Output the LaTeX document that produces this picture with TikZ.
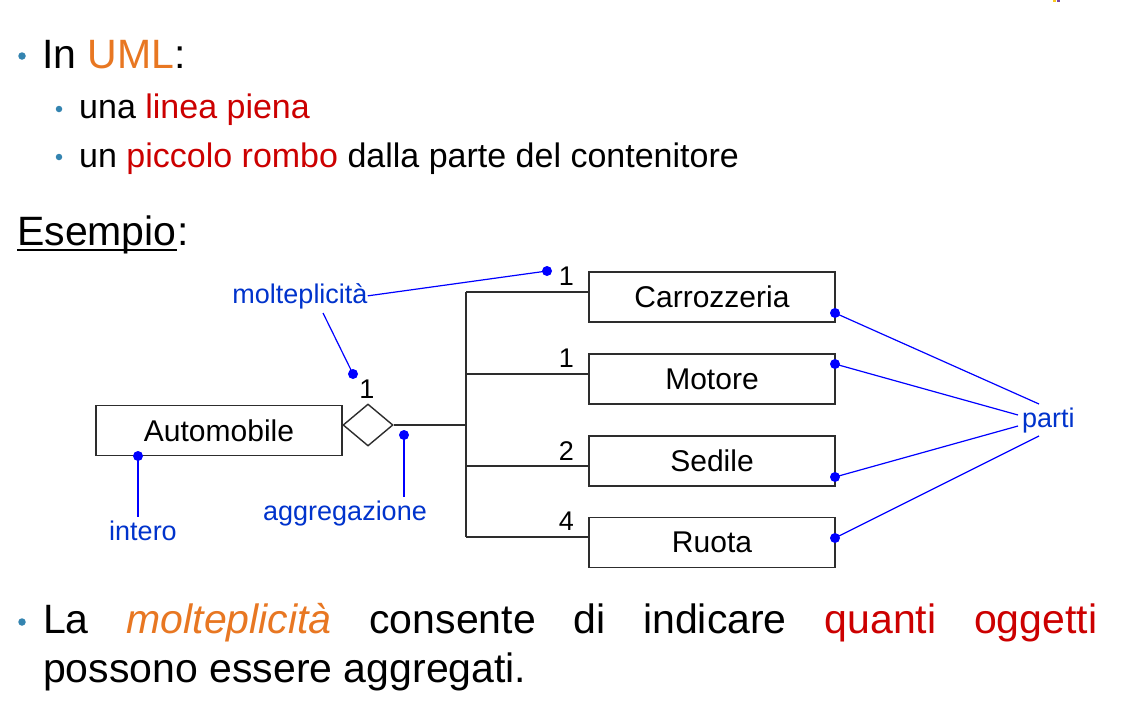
\documentclass[tikz,border=0pt]{standalone}
\usepackage{fontspec}
\setmainfont{Liberation Sans}
\usetikzlibrary{shapes.geometric}

\definecolor{bulletblue}{RGB}{52,132,176}
\definecolor{umlorange}{RGB}{232,119,34}
\definecolor{accentred}{RGB}{204,0,0}
\definecolor{noteblue}{RGB}{0,51,204}
\definecolor{pinblue}{RGB}{0,0,255}
\definecolor{linegray}{RGB}{45,45,45}
\definecolor{logoyellow}{RGB}{250,200,30}
\definecolor{logopurple}{RGB}{120,70,160}

\begin{document}
\begin{tikzpicture}[x=1pt,y=-1pt,
  lvlone/.style={anchor=base west, inner sep=0pt, font=\fontsize{41}{50}\selectfont},
  lvltwo/.style={anchor=base west, inner sep=0pt, font=\fontsize{34}{40}\selectfont},
  bul/.style={circle, fill=bulletblue, inner sep=0pt, minimum size=7.5pt},
  subbul/.style={circle, fill=bulletblue, inner sep=0pt, minimum size=6.5pt},
  classbox/.style={draw=linegray, line width=1.4pt, minimum width=246pt, minimum height=50pt,
                   inner sep=0pt, font=\fontsize{30}{36}\selectfont},
  aggshape/.style={diamond, draw=linegray, line width=1.4pt, fill=white, inner sep=0pt,
                   minimum width=50pt, minimum height=42pt},
  assoc/.style={draw=linegray, line width=1.4pt},
  mult/.style={inner sep=0pt, anchor=base east, font=\fontsize{27}{32}\selectfont},
  note/.style={text=noteblue, inner sep=0pt, font=\fontsize{27}{32}\selectfont},
  pin/.style={circle, fill=pinblue, inner sep=0pt, minimum size=10pt},
  link/.style={draw=pinblue, line width=1.2pt}
]
\useasboundingbox (0,0) rectangle (1134,720);
\fill[white] (0,0) rectangle (1134,720);

% corner of the slide logo
\fill[logoyellow] (1053,0) rectangle (1056,1.5);
\fill[logopurple] (1057,0) rectangle (1060,1.5);

% ---- bullet list ----
\node[bul] (b1) at (22,56) {};
\node[lvlone] (h1) at (42,68) {In \textcolor{umlorange}{UML}:};
\node[subbul] (b2) at (59,109) {};
\node[lvltwo] (s1) at (79,118) {una \textcolor{accentred}{linea piena}};
\node[subbul] (b3) at (59,157) {};
\node[lvltwo] (s2) at (79,167) {un \textcolor{accentred}{piccolo rombo} dalla parte del contenitore};

% ---- heading ----
\node[lvlone] (esw) at (17,245) {Esempio};
\node[lvlone, anchor=base west] (colon) at (esw.base east) {:};
\draw[line width=2pt] ([yshift=-4.5pt]esw.base west) -- ([yshift=-4.5pt]esw.base east);

% ---- classes ----
\node[classbox] (auto) at (219,430.5) {Automobile};
\node[aggshape] (agg) at (368,425) {};
\node[classbox] (carr) at (712,297) {Carrozzeria};
\node[classbox] (moto) at (712,379) {Motore};
\node[classbox] (sedi) at (712,461) {Sedile};
\node[classbox] (ruot) at (712,542.5) {Ruota};

% ---- aggregation tree ----
\coordinate (bC) at (466,292);
\coordinate (bM) at (466,374);
\coordinate (bS) at (466,466);
\coordinate (bR) at (466,537);
\draw[assoc] (agg.east) -- (agg.east -| bC);
\draw[assoc] (bC) -- (bR);
\draw[assoc] (bC) -- (bC -| carr.west);
\draw[assoc] (bM) -- (bM -| moto.west);
\draw[assoc] (bS) -- (bS -| sedi.west);
\draw[assoc] (bR) -- (bR -| ruot.west);

% ---- multiplicities ----
\node[mult, anchor=base] (mA) at (367,398) {1};
\node[mult] (mC) at (574,285) {1};
\node[mult] (mM) at (574,367) {1};
\node[mult] (mS) at (574,460) {2};
\node[mult] (mR) at (574,530) {4};

% ---- annotations ----
\node[note, anchor=base] (molt) at (300,303) {molteplicità};
\node[note, anchor=base] (inte) at (143,540) {intero};
\node[note, anchor=base] (aggr) at (345,520) {aggregazione};
\node[note, anchor=base west] (part) at (1022,427) {parti};

\node[pin] (p1) at (547,271) {};
\node[pin] (p2) at (353,374) {};
\node[pin] (p3) at (138,456) {};
\node[pin] (p4) at (404,435) {};
\node[pin] (pc) at (835,313) {};
\node[pin] (pm) at (835,364) {};
\node[pin] (ps) at (835,477) {};
\node[pin] (pr) at (835,538) {};

\coordinate (m2) at (323,313);
\coordinate (ie) at (138,517);
\coordinate (ae) at (404,497);
\coordinate (q1) at (1039,404);
\coordinate (q2) at (1018,415);
\coordinate (q3) at (1018,426);
\coordinate (q4) at (1039,436);

\draw[link] (p1.center) -- (molt.east);
\draw[link] (p2.center) -- (m2);
\draw[link] (p3.center) -- (ie);
\draw[link] (p4.center) -- (ae);
\draw[link] (pc.center) -- (q1);
\draw[link] (pm.center) -- (q2);
\draw[link] (ps.center) -- (q3);
\draw[link] (pr.center) -- (q4);

% ---- closing remark ----
\node[bul] (b4) at (22,622) {};
\node[lvlone] (l1) at (43,633) {\hbox to 1054pt{La\hfill\textcolor{umlorange}{\itshape molteplicità}\hfill consente\hfill di\hfill indicare\hfill\textcolor{accentred}{quanti\hfill oggetti}}};
\node[lvlone] (l2) at (43,682) {possono essere aggregati.};
\end{tikzpicture}
\end{document}
